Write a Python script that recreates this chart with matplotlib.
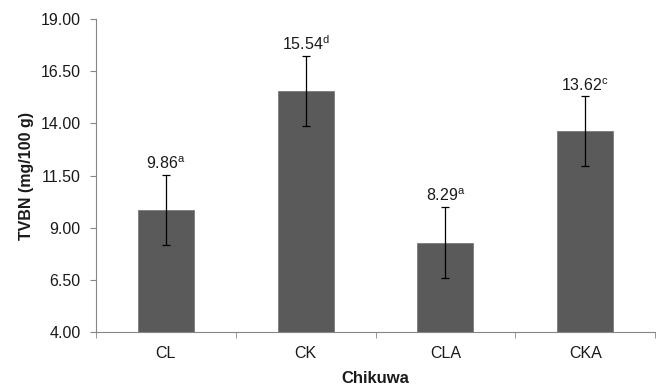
import matplotlib.pyplot as plt
import numpy as np

# ====data====
groups = ['CL', 'CK', 'CLA', 'CKA']
tvbn = [9.86, 15.54, 8.29, 13.62]
sd = [1.67, 1.67, 1.69, 1.67]
letters = ['a', 'd', 'a', 'c']
y_ticks = [4.00, 6.50, 9.00, 11.50, 14.00, 16.50, 19.00]

# ====style====
plt.rcParams['font.family'] = ['Liberation Sans', 'DejaVu Sans']
plt.rcParams['mathtext.fontset'] = 'custom'
plt.rcParams['mathtext.rm'] = 'Liberation Sans'
plt.rcParams['mathtext.it'] = 'Liberation Sans'

axis_grey = '#868686'
text_grey = '#1a1a1a'

fig = plt.figure(figsize=(6.64, 3.87), dpi=100)
ax = fig.add_axes([0.1446, 0.142, 0.842, 0.809])

x = np.arange(len(groups))
ax.bar(x, tvbn, width=0.4, bottom=0, color='#5a5a5a', edgecolor='#7a7a7a', linewidth=0.6, zorder=2)
ax.errorbar(x, tvbn, yerr=sd, fmt='none', ecolor='black', elinewidth=0.9, capsize=2.6, capthick=0.9, zorder=3)

# value labels with superscript letters
for xi, v, s, let in zip(x, tvbn, sd, letters):
    ax.text(xi, v + s + 0.28, '%.2f$^{\\mathrm{%s}}$' % (v, let), ha='center', va='baseline',
            fontsize=11.5, color=text_grey)

ax.set_ylim(4, 19)
ax.set_xlim(-0.5, len(groups) - 0.5)
ax.set_yticks(y_ticks)
ax.set_yticklabels(['%.2f' % t for t in y_ticks], fontsize=11.5, color=text_grey)
ax.set_xticks(x)
ax.set_xticklabels(groups, fontsize=11.5, color=text_grey)
ax.set_xticks(np.arange(-0.5, len(groups), 1.0), minor=True)
ax.tick_params(axis='x', which='major', length=0, pad=10)
ax.tick_params(axis='x', which='minor', length=4, color=axis_grey, direction='out')
ax.tick_params(axis='y', length=4, color=axis_grey, direction='out', pad=7)

for side in ['top', 'right']:
    ax.spines[side].set_visible(False)
for side in ['left', 'bottom']:
    ax.spines[side].set_color(axis_grey)
    ax.spines[side].set_linewidth(0.8)

ax.set_ylabel('TVBN (mg/100 g)', fontsize=11.5, fontweight='bold', color=text_grey, labelpad=5)
ax.set_xlabel('Chikuwa', fontsize=12, fontweight='bold', color=text_grey, labelpad=7)

plt.savefig('out.png', dpi=100)
